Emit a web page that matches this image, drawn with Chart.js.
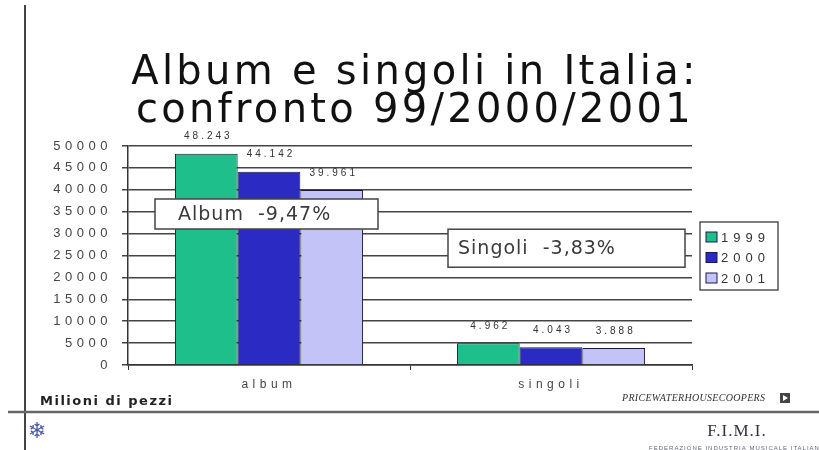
<!DOCTYPE html>
<html><head><meta charset="utf-8">
<script src="https://cdn.jsdelivr.net/npm/chart.js@4/dist/chart.umd.min.js"></script>
<style>html,body{margin:0;padding:0;background:#fff;}#wrap{width:819px;height:450px;position:relative;}</style>
</head><body><div id="wrap"><canvas id="c" width="819" height="450"></canvas></div>
<script>
const categories = ['album', 'singoli'];
const seriesLabels = ['1999', '2000', '2001'];
const values1999 = [48243, 4962];
const values2000 = [44142, 4043];
const values2001 = [39961, 3888];
const yTickMin = 0, yTickMax = 50000, yTickStep = 5000;
const titleLines = ['Album e singoli in Italia:', 'confronto 99/2000/2001'];
const annotationTexts = ['Album  -9,47%', 'Singoli  -3,83%'];
const unitLabel = 'Milioni di pezzi';
const seriesColors = ['#1fbf8c', '#2b2bc4', '#c3c3f7'];

function fmt(v){ return String(v).replace(/\B(?=(\d{3})+(?!\d))/g, '.'); }

const overlay = {
  id: 'overlay',
  beforeDraw(chart){
    const ctx = chart.ctx;
    ctx.save();
    ctx.fillStyle = '#fff';
    ctx.fillRect(0,0,chart.width,chart.height);
    ctx.restore();
    ctx.letterSpacing = '4.5px';
  },
  afterDraw(chart){
    const ctx = chart.ctx;
    ctx.save();
    ctx.letterSpacing = '0px';
    // slide frame lines
    ctx.strokeStyle = '#444'; ctx.lineWidth = 2;
    ctx.beginPath(); ctx.moveTo(25, 5); ctx.lineTo(25, 450); ctx.stroke();
    ctx.strokeStyle = '#666'; ctx.lineWidth = 2.5;
    ctx.beginPath(); ctx.moveTo(8, 412); ctx.lineTo(819, 412); ctx.stroke();

    // title
    ctx.fillStyle = '#111';
    ctx.font = '40px "DejaVu Sans"';
    ctx.letterSpacing = '3.3px';
    ctx.textAlign = 'center'; ctx.textBaseline = 'alphabetic';
    ctx.fillText(titleLines[0], 415, 84);
    ctx.fillText(titleLines[1], 415, 122);

    // data labels
    ctx.font = '10px "Liberation Sans"';
    ctx.letterSpacing = '3px';
    ctx.fillStyle = '#333';
    ctx.textBaseline = 'middle';
    chart.data.datasets.forEach((ds, i) => {
      const meta = chart.getDatasetMeta(i);
      meta.data.forEach((bar, j) => {
        ctx.fillText(fmt(ds.data[j]), bar.x + 2, bar.y - 17);
      });
    });

    // annotation boxes
    const xs = chart.scales.x, ys = chart.scales.y;
    ctx.letterSpacing = '1px';
    ctx.font = '19px "DejaVu Sans"';
    ctx.textAlign = 'left';
    const boxes = [
      {x: xs.getPixelForValue(0) - 114, y: ys.getPixelForValue(37900), w: 223, h: 30, tx: 23},
      {x: xs.getPixelForValue(1) - 103, y: ys.getPixelForValue(31000), w: 237, h: 38, tx: 10}
    ];
    boxes.forEach((b, i) => {
      ctx.fillStyle = '#fff';
      ctx.fillRect(b.x, b.y, b.w, b.h);
      ctx.strokeStyle = '#444'; ctx.lineWidth = 1.5;
      ctx.strokeRect(b.x, b.y, b.w, b.h);
      ctx.fillStyle = '#3a3a3a';
      ctx.fillText(annotationTexts[i], b.x + b.tx, b.y + b.h/2 + 1);
    });

    // legend
    const lx = 700, ly = 222;
    ctx.fillStyle = '#fff'; ctx.fillRect(lx, ly, 78, 68);
    ctx.strokeStyle = '#555'; ctx.lineWidth = 1.5; ctx.strokeRect(lx, ly, 78, 68);
    ctx.font = '13px "Liberation Sans"';
    ctx.letterSpacing = '5px';
    seriesLabels.forEach((lab, i) => {
      const cy = ly + 15 + i * 20.5;
      ctx.fillStyle = seriesColors[i];
      ctx.fillRect(lx + 6, cy - 5, 11, 10);
      ctx.strokeStyle = '#1a1a50'; ctx.lineWidth = 1;
      ctx.strokeRect(lx + 6, cy - 5, 11, 10);
      ctx.fillStyle = '#333';
      ctx.fillText(lab, lx + 21, cy + 1);
    });

    // footer texts
    ctx.letterSpacing = '1.5px';
    ctx.font = 'bold 13px "DejaVu Sans"';
    ctx.fillStyle = '#222';
    ctx.fillText(unitLabel, 40, 402);

    ctx.letterSpacing = '0.3px';
    ctx.font = 'italic 10px "Liberation Serif"';
    ctx.fillStyle = '#333';
    ctx.fillText('PRICEWATERHOUSECOOPERS', 622, 398);
    ctx.fillStyle = '#444'; ctx.fillRect(780, 393, 10, 10);
    ctx.fillStyle = '#fff';
    ctx.beginPath(); ctx.moveTo(783, 395); ctx.lineTo(788, 398); ctx.lineTo(783, 401); ctx.closePath(); ctx.fill();

    ctx.letterSpacing = '0px';
    ctx.font = '22px "DejaVu Sans"';
    ctx.fillStyle = '#4a5aa8';
    ctx.textAlign = 'center';
    ctx.fillText('\u2744', 37, 432);

    ctx.font = '17px "Liberation Serif"';
    ctx.fillStyle = '#334';
    ctx.letterSpacing = '1px';
    ctx.fillText('F.I.M.I.', 737, 432);
    ctx.font = '6px "Liberation Sans"';
    ctx.fillStyle = '#667';
    ctx.fillText('FEDERAZIONE INDUSTRIA MUSICALE ITALIANA', 737, 448);
    ctx.restore();
  }
};

const ds = (label, data, color) => ({
  label, data, backgroundColor: color, borderColor: '#1a1a40', borderWidth: 1,
  categoryPercentage: 0.667, barPercentage: 1.0
});

new Chart(document.getElementById('c'), {
  type: 'bar',
  data: {
    labels: categories,
    datasets: [
      ds(seriesLabels[0], values1999, seriesColors[0]),
      ds(seriesLabels[1], values2000, seriesColors[1]),
      ds(seriesLabels[2], values2001, seriesColors[2])
    ]
  },
  options: {
    responsive: false, animation: false, devicePixelRatio: 1,
    layout: {padding: {left: 0, right: 127, top: 146, bottom: 55}},
    plugins: {legend: {display: false}, title: {display: false}, tooltip: {enabled: false}},
    scales: {
      x: {
        grid: {display: true, drawOnChartArea: false, drawTicks: true, tickLength: 5, color: '#333', offset: true},
        border: {color: '#333', width: 1.5},
        ticks: {font: {family: 'Liberation Sans', size: 12}, color: '#444', padding: 7},
        afterFit: s => { s.height = 30; }
      },
      y: {
        min: yTickMin, max: yTickMax,
        ticks: {stepSize: yTickStep, font: {family: 'Liberation Sans', size: 13}, color: '#444', padding: 10,
                callback: v => String(v)},
        grid: {color: '#444', lineWidth: 1.5, tickLength: 6},
        border: {color: '#333', width: 1.5},
        afterFit: s => { s.width = 128; }
      }
    }
  },
  plugins: [overlay]
});
</script></body></html>
